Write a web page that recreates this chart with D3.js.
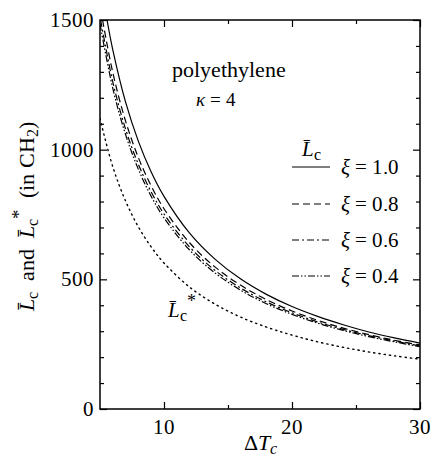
<!DOCTYPE html>
<html><head><meta charset="utf-8">
<script src="https://cdn.jsdelivr.net/npm/d3@7"></script>
<style>
@font-face{font-family:"ChartSerif";src:local("Liberation Serif"),local("LiberationSerif"),local("Times New Roman");font-style:normal;font-weight:400}
@font-face{font-family:"ChartSerif";src:local("Liberation Serif Italic"),local("LiberationSerif-Italic"),local("Times New Roman Italic");font-style:italic;font-weight:400}
body{margin:0;background:#fff}svg{display:block}
</style>
</head><body><svg id="c" width="432" height="459"></svg>
<script>
const xTicks = [10, 20, 30];
const yTicks = [0, 500, 1000, 1500];
const xi10 = [[5.55,1500],[6,1385],[7,1183],[8,1032],[9,914],[10,820],[12,678],[14,577],[16,501],[18,442],[20,395],[22,357],[24,325],[26,297],[28,274],[30,254]];
const xi08 = [[5.2,1500],[6,1297],[7,1110],[8,969],[9,860],[10,772],[12,641],[14,547],[16,477],[18,422],[20,378],[22,342],[24,312],[26,287],[28,265],[30,247]];
const xi06 = [[5.05,1500],[6,1261],[7,1079],[8,943],[9,837],[10,752],[12,625],[14,534],[16,466],[18,413],[20,371],[22,336],[24,307],[26,283],[28,262],[30,243]];
const xi04 = [[5,1485],[6,1236],[7,1058],[8,924],[9,820],[10,737],[12,613],[14,524],[16,458],[18,406],[20,365],[22,331],[24,303],[26,279],[28,259],[30,240]];
const lstar = [[5,1120],[6,934],[7,802],[8,702],[9,625],[10,563],[12,470],[14,404],[16,354],[18,316],[20,285],[22,259],[24,238],[26,220],[28,205],[30,192]];
const seriesNames = ["\u03be = 1.0","\u03be = 0.8","\u03be = 0.6","\u03be = 0.4"];

const svg = d3.select("#c");
const L = 100, R = 420, T = 20, B = 409;
const x = d3.scaleLinear().domain([5,30]).range([L,R]);
const y = d3.scaleLinear().domain([0,1500]).range([B,T]);

const dashes = ["", "7,4", "7,3,2,3", "7,2,1.5,2,1.5,2"];
const series = [xi10, xi08, xi06, xi04];
const line = d3.line().x(d=>x(d[0])).y(d=>y(d[1])).curve(d3.curveCatmullRom);

svg.append("clipPath").attr("id","cl").append("rect").attr("x",L).attr("y",T).attr("width",R-L).attr("height",B-T);
const g = svg.append("g").attr("clip-path","url(#cl)");
series.forEach((s,i)=>{
  g.append("path").attr("d",line(s)).attr("fill","none").attr("stroke","#000").attr("stroke-width",1.2).attr("stroke-dasharray",dashes[i]||null);
});
g.append("path").attr("d",line(lstar)).attr("fill","none").attr("stroke","#000").attr("stroke-width",1.4).attr("stroke-dasharray","1.3,4").attr("stroke-linecap","round");

const xMinor = [15, 25];
const yMinor = d3.range(100,1500,100).filter(v=>!yTicks.includes(v));
const ax = svg.append("g");
ax.append("g").attr("transform",`translate(0,${B})`).call(d3.axisBottom(x).tickValues(xTicks).tickSize(-7).tickFormat(""));
ax.append("g").attr("transform",`translate(0,${B})`).call(d3.axisBottom(x).tickValues(xMinor).tickSize(-4).tickFormat(""));
ax.append("g").attr("transform",`translate(0,${T})`).call(d3.axisTop(x).tickValues(xTicks).tickSize(-7).tickFormat(""));
ax.append("g").attr("transform",`translate(0,${T})`).call(d3.axisTop(x).tickValues(xMinor).tickSize(-4).tickFormat(""));
ax.append("g").attr("transform",`translate(${L},0)`).call(d3.axisLeft(y).tickValues(yTicks).tickSize(-7).tickFormat(""));
ax.append("g").attr("transform",`translate(${L},0)`).call(d3.axisLeft(y).tickValues(yMinor).tickSize(-4).tickFormat(""));
ax.append("g").attr("transform",`translate(${R},0)`).call(d3.axisRight(y).tickValues(yTicks).tickSize(-7).tickFormat(""));
ax.append("g").attr("transform",`translate(${R},0)`).call(d3.axisRight(y).tickValues(yMinor).tickSize(-4).tickFormat(""));
svg.selectAll(".domain").remove();
svg.selectAll(".tick line").attr("stroke","#000").attr("stroke-width",1.2);
svg.selectAll(".tick text").remove();
svg.append("rect").attr("x",L).attr("y",T).attr("width",R-L).attr("height",B-T).attr("fill","none").attr("stroke","#000").attr("stroke-width",1.5);

const FF = "ChartSerif, 'Liberation Serif', serif";
const txt = (sel)=>sel.attr("fill","#000").style("font-family",FF);

svg.selectAll(".xl").data(xTicks).enter().append("text").call(txt).attr("x",d=>x(d)).attr("y",B+25).attr("text-anchor","middle").attr("font-size",21).text(d=>d);
svg.selectAll(".yl").data(yTicks).enter().append("text").call(txt).attr("x",L-6).attr("y",d=>y(d)+7).attr("text-anchor","end").attr("font-size",21).text(d=>d);

const xt = svg.append("text").call(txt).attr("x",260).attr("y",450).attr("text-anchor","middle").attr("font-size",22);
xt.append("tspan").text("\u0394");
xt.append("tspan").attr("font-style","italic").text("T");
xt.append("tspan").attr("font-style","italic").attr("font-size",16).attr("dy",4).text("c");

const yt = svg.append("text").call(txt).attr("transform","translate(34,216) rotate(-90)").attr("text-anchor","middle").attr("font-size",22);
yt.append("tspan").attr("font-style","italic").text("L\u0304");
yt.append("tspan").attr("font-size",16).attr("dy",4).text("c");
yt.append("tspan").attr("dy",-4).text("\u2002and\u2002");
yt.append("tspan").attr("font-style","italic").text("L\u0304");
yt.append("tspan").attr("font-size",16).attr("dy",4).text("c");
yt.append("tspan").attr("font-size",19).attr("dy",-13).text("*");
yt.append("tspan").attr("dy",9).text("\u2002(in CH");
yt.append("tspan").attr("font-size",16).attr("dy",4).text("2");
yt.append("tspan").attr("dy",-4).text(")");

svg.append("text").call(txt).attr("x",229).attr("y",77).attr("text-anchor","middle").attr("font-size",22).text("polyethylene");
const k = svg.append("text").call(txt).attr("x",216).attr("y",106).attr("text-anchor","middle").attr("font-size",19);
k.append("tspan").attr("font-style","italic").text("\u03ba");
k.append("tspan").text(" = 4");

const ls = svg.append("text").call(txt).attr("x",168).attr("y",317).attr("font-size",21);
ls.append("tspan").attr("font-style","italic").text("L\u0304");
ls.append("tspan").attr("font-size",16).attr("dy",4).text("c");
ls.append("tspan").attr("font-size",18).attr("dy",-15).text("*");

const lh = svg.append("text").call(txt).attr("x",302).attr("y",156).attr("font-size",21);
lh.append("tspan").attr("font-style","italic").text("L\u0304");
lh.append("tspan").attr("font-size",16).attr("dy",4).text("c");
const rowY = [167, 204, 240, 276];
seriesNames.forEach((n,i)=>{
  svg.append("line").attr("x1",292).attr("x2",330).attr("y1",rowY[i]).attr("y2",rowY[i]).attr("stroke","#000").attr("stroke-width",1.2).attr("stroke-dasharray",dashes[i]||null);
  const t = svg.append("text").call(txt).attr("x",341).attr("y",rowY[i]+7).attr("font-size",21);
  t.append("tspan").attr("font-style","italic").text("\u03be");
  t.append("tspan").text(" = " + n.split("= ")[1]);
});
</script></body></html>
